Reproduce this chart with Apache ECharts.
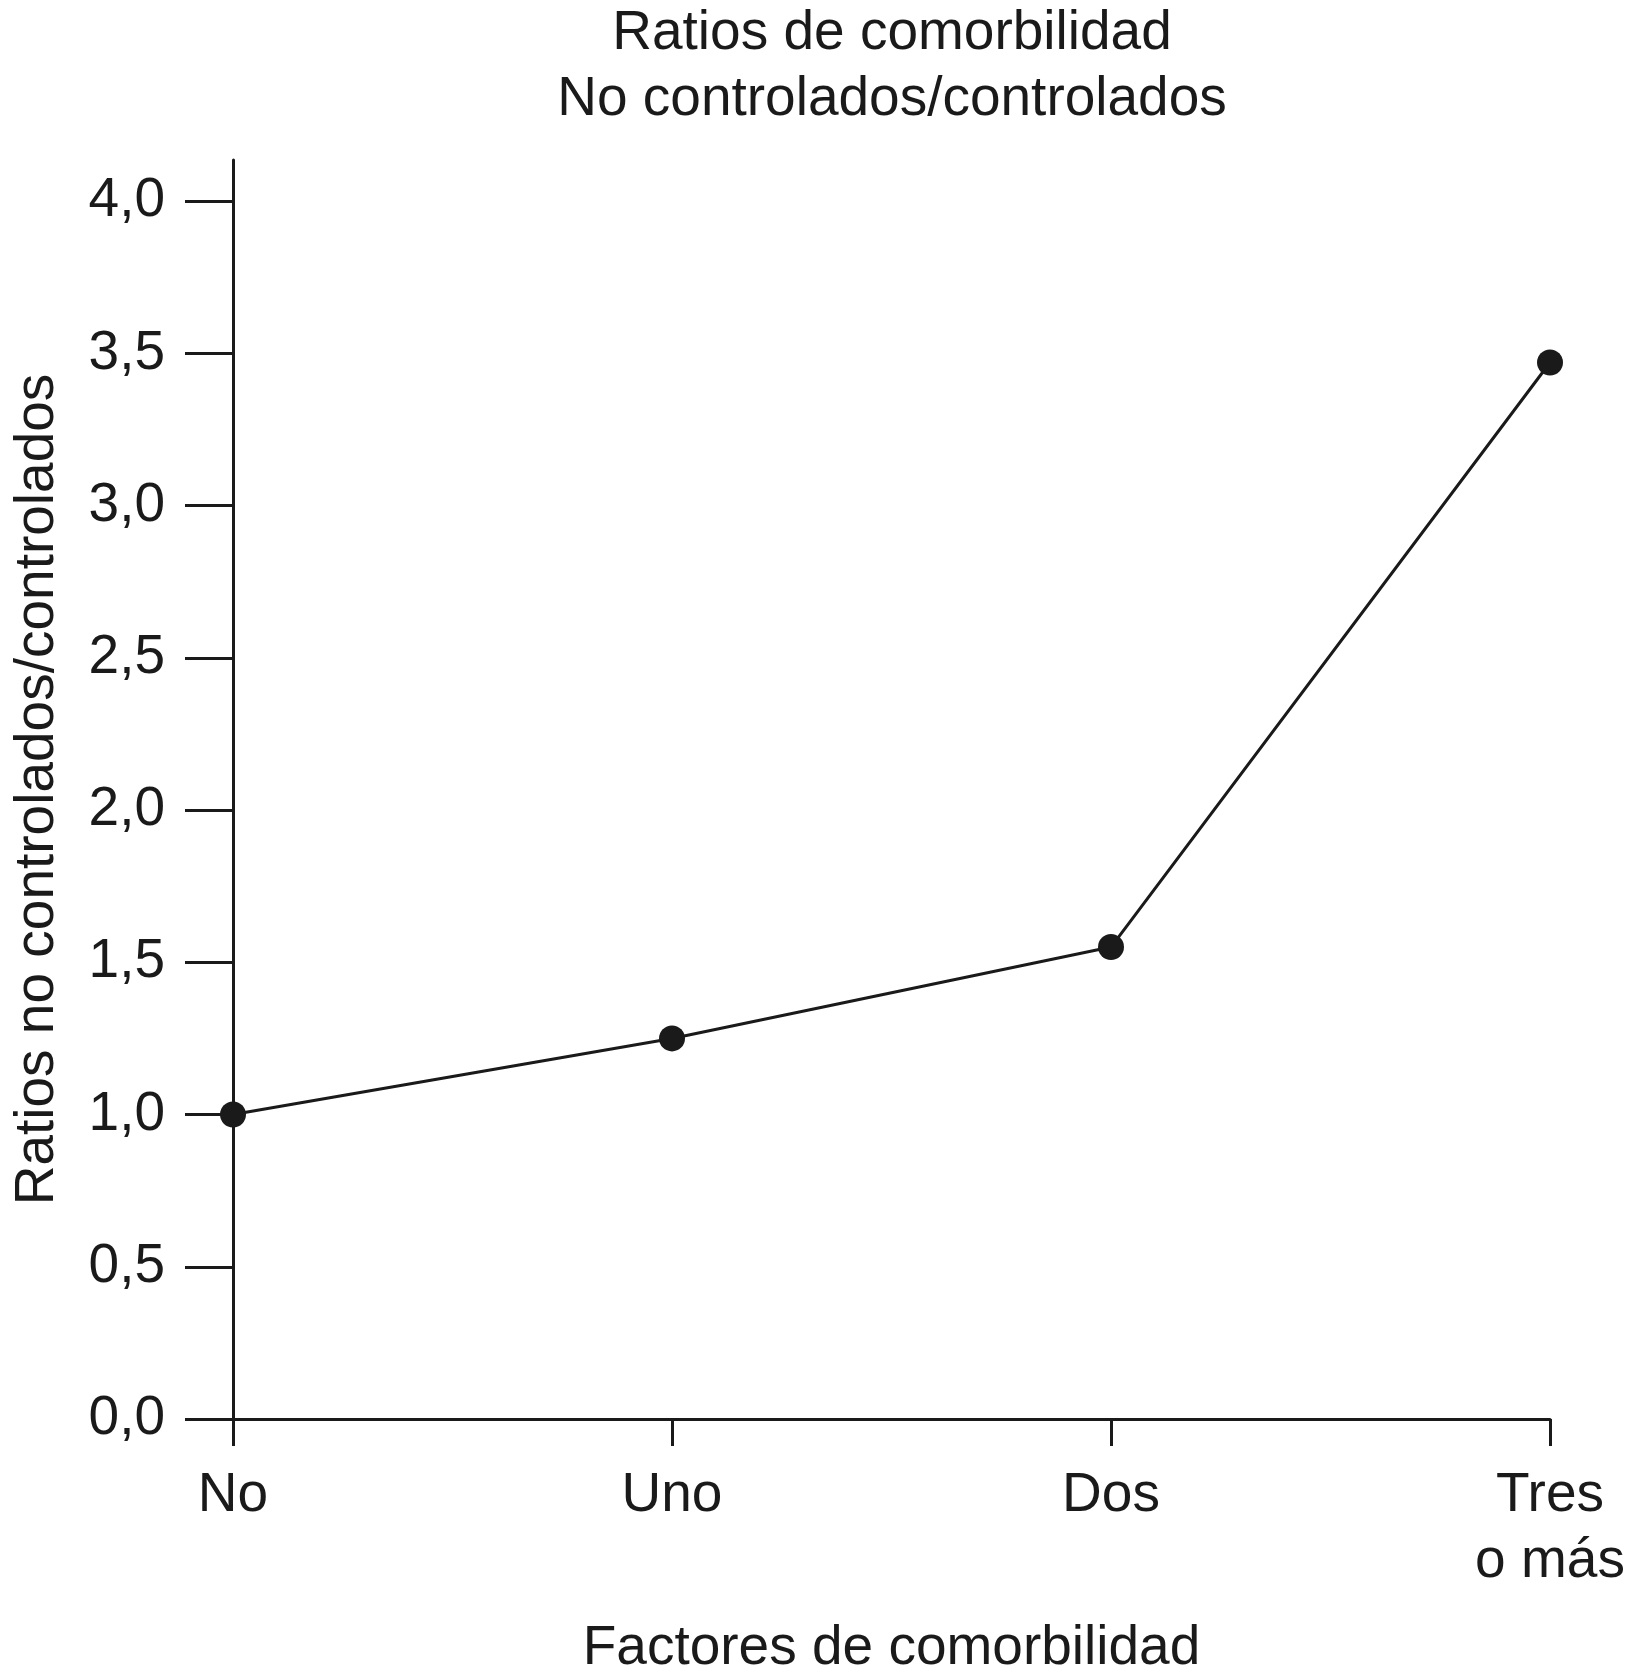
<!DOCTYPE html>
<html>
<head>
<meta charset="utf-8">
<script src="https://cdn.jsdelivr.net/npm/echarts@6/dist/echarts.min.js"></script>
<style>html,body{margin:0;padding:0;background:#fff;}#c{width:1626px;height:1680px;}</style>
</head>
<body>
<div id="c"></div>
<script>
const categories = ['No', 'Uno', 'Dos', 'Tres\no más'];
const ratios = [1.0, 1.25, 1.55, 3.47];
const yTicks = [0, 0.5, 1.0, 1.5, 2.0, 2.5, 3.0, 3.5, 4.0];
const titleText = 'Ratios de comorbilidad\nNo controlados/controlados';
const xName = 'Factores de comorbilidad';
const yName = 'Ratios no controlados/controlados';

const ink = '#1a1a1a';
const font = 'Liberation Sans, Arial, sans-serif';
const chart = echarts.init(document.getElementById('c'));
chart.setOption({
  animation: false,
  backgroundColor: '#fff',
  title: {
    text: titleText,
    left: 887,
    top: -4,
    textAlign: 'center',
    textStyle: { color: ink, fontFamily: font, fontSize: 55, fontWeight: 'normal', lineHeight: 66 }
  },
  grid: { left: 233, right: 76, top: 160, bottom: 261, containLabel: false, outerBoundsMode: 'none' },
  xAxis: {
    type: 'category',
    data: categories,
    boundaryGap: false,
    name: xName,
    nameLocation: 'middle',
    nameGap: 202,
    nameTextStyle: { color: ink, fontFamily: font, fontSize: 55 },
    axisLine: { show: true, lineStyle: { color: ink, width: 3 } },
    axisTick: { show: true, alignWithLabel: true, length: 27, lineStyle: { color: ink, width: 3 } },
    axisLabel: { color: ink, fontFamily: font, fontSize: 55, lineHeight: 66, margin: 44, interval: 0 },
    splitLine: { show: false }
  },
  yAxis: {
    type: 'value',
    min: 0,
    max: 4.135,
    name: yName,
    nameLocation: 'middle',
    nameGap: 168,
    nameTextStyle: { color: ink, fontFamily: font, fontSize: 55 },
    axisLine: { show: true, lineStyle: { color: ink, width: 3 } },
    axisTick: { show: true, length: 48, customValues: yTicks, lineStyle: { color: ink, width: 3 } },
    axisLabel: {
      color: ink, fontFamily: font, fontSize: 55, margin: 68,
      customValues: yTicks,
      formatter: v => v.toFixed(1).replace('.', ',')
    },
    splitLine: { show: false }
  },
  series: [{
    type: 'line',
    data: ratios,
    symbol: 'circle',
    symbolSize: 26,
    lineStyle: { color: ink, width: 3 },
    itemStyle: { color: ink },
    z: 5
  }]
});
</script>
</body>
</html>
